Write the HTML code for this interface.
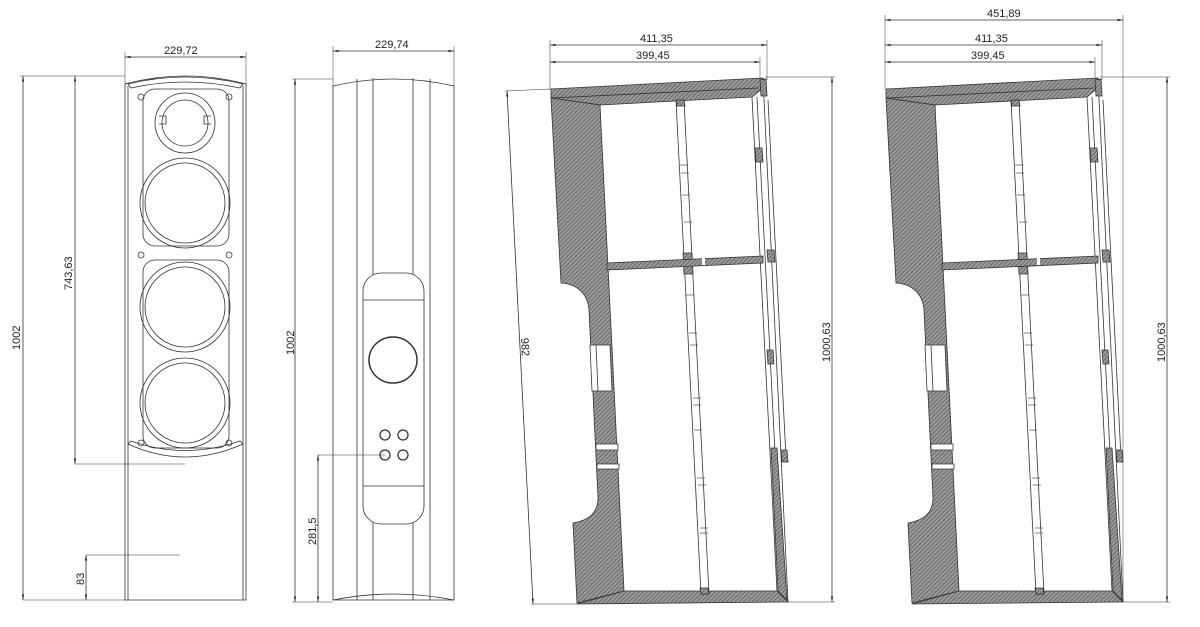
<!DOCTYPE html>
<html><head><meta charset="utf-8"><style>
html,body{margin:0;padding:0;background:#fff;}
svg{display:block;}
text{font-family:"Liberation Sans",sans-serif;font-size:11px;fill:#222;}
</style></head><body>
<svg width="1200" height="627" viewBox="0 0 1200 627" xmlns="http://www.w3.org/2000/svg">
<defs>
<pattern id="h" patternUnits="userSpaceOnUse" width="3" height="3" patternTransform="rotate(45)">
<rect width="3" height="3" fill="#9a9a9a"/><line x1="0" y1="0" x2="0" y2="3" stroke="#4a4a4a" stroke-width="1.2"/>
</pattern>
<marker id="a" viewBox="0 0 10 10" refX="10" refY="5" markerWidth="7" markerHeight="7" orient="auto-start-reverse"><path d="M0,3 L10,5 L0,7 z" fill="#222"/></marker>
<g id="sec" stroke="#333" stroke-width="0.8">
<path d="M551,89 L763,78 L765,86 L752,97 L600,105 L551,98 Z" fill="url(#h)"/>
<line x1="551" y1="98" x2="759" y2="88"/>
<path d="M551,98 L600,105 L624,591 L577,603 L573,523 C590,520 598,512 598,498 L589,310 C588,295 578,284 561,283 Z" fill="url(#h)"/>
<path d="M590,345 L610,345 L612,391 L592,391 Z" fill="#fff"/>
<line x1="596" y1="345" x2="598" y2="391"/>
<path d="M596,444 L618,444 L618,450 L596,450 Z" fill="#fff"/>
<path d="M597,464 L619,464 L619,469 L597,469 Z" fill="#fff"/>
<path d="M624,591 L777,591 L788,602 L577,604 Z" fill="url(#h)"/>
<line x1="763" y1="78" x2="788" y2="602" fill="none"/>
<line x1="752" y1="97" x2="777" y2="591" fill="none"/>
<line x1="757" y1="97" x2="782" y2="591" fill="none"/>
<line x1="768" y1="100" x2="786" y2="458" fill="none"/>
<path d="M771,448 L777,448 L787,600 L778,591 Z" fill="url(#h)"/>
<path d="M755,148 L762,148 L763,162 L756,162 Z" fill="url(#h)"/>
<path d="M767,350 L773,350 L774,364 L768,364 Z" fill="url(#h)"/>
<path d="M760,80 L766,79 L767,96 L761,96 Z" fill="url(#h)"/>
<path d="M781,450 L787,450 L788,462 L782,462 Z" fill="url(#h)"/>
<path d="M767,250 L774,250 L775,262 L768,262 Z" fill="url(#h)"/>
<path d="M676,100 L684,100 L709,594 L701,594 Z" fill="#fff"/>
<path d="M676,100 L684,100 L685,106 L677,106 Z" fill="url(#h)"/>
<path d="M700,588 L708,588 L709,594 L701,594 Z" fill="url(#h)"/>
<path d="M683,253 L692,253 L693,274 L684,274 Z" fill="url(#h)"/>
<g stroke-width="0.6">
<line x1="680" y1="165" x2="688" y2="165"/><line x1="681" y1="173" x2="689" y2="173"/>
<line x1="682" y1="195" x2="690" y2="195"/><line x1="684" y1="222" x2="692" y2="222"/>
<line x1="686" y1="295" x2="694" y2="295"/><line x1="689" y1="333" x2="697" y2="333"/>
<line x1="690" y1="345" x2="698" y2="345"/><line x1="693" y1="398" x2="701" y2="398"/>
<line x1="693" y1="405" x2="701" y2="405"/><line x1="694" y1="430" x2="702" y2="430"/>
<line x1="697" y1="478" x2="705" y2="478"/><line x1="698" y1="485" x2="706" y2="485"/>
<line x1="700" y1="528" x2="708" y2="528"/><line x1="700" y1="533" x2="708" y2="533"/>
</g>
<path d="M607,263 L763,256 L763,263 L607,270 Z" fill="url(#h)"/>
<rect x="702" y="258" width="3" height="7" fill="#fff" stroke="none"/>
</g>
</defs>

<g fill="none" stroke="#333" stroke-width="0.8">
<line x1="125" y1="52" x2="125" y2="84" stroke-width="0.5"/><line x1="246" y1="52" x2="246" y2="84" stroke-width="0.5"/>
<line x1="125" y1="57" x2="246" y2="57" marker-start="url(#a)" marker-end="url(#a)"/>
<path d="M125,84 Q185,68 246,84 L246,600 L125,600 Z"/>
<line x1="128" y1="86" x2="128" y2="600"/><line x1="243" y1="86" x2="243" y2="600"/>
<path d="M128,84 Q185,70 243,84 L240,88 Q185,76 131,88 Z"/>
<path d="M128,444 Q185,470 243,444 L240,441 Q185,460 131,441 Z"/>
<rect x="143" y="89" width="86" height="157" rx="12"/>
<rect x="143" y="260" width="86" height="188" rx="12"/>
<circle cx="185" cy="123" r="30"/><circle cx="185" cy="123" r="23"/>
<path d="M159,116 h7 v8 h-7 M211,116 h-7 v8 h7"/>
<circle cx="185" cy="203" r="45"/><circle cx="185" cy="203" r="40"/>
<circle cx="185" cy="307" r="45"/><circle cx="185" cy="307" r="40"/>
<circle cx="185" cy="403" r="45"/><circle cx="185" cy="403" r="40"/>
<circle cx="141" cy="97" r="3"/><circle cx="229" cy="97" r="3"/>
<circle cx="141" cy="255" r="3"/><circle cx="229" cy="255" r="3"/>
<circle cx="141" cy="443" r="3"/><circle cx="229" cy="443" r="3"/>
<line x1="20" y1="76" x2="125" y2="76" stroke-width="0.5"/>
<line x1="23" y1="76" x2="23" y2="600" marker-start="url(#a)" marker-end="url(#a)"/>
<line x1="23" y1="600" x2="125" y2="600" stroke-width="0.5"/>
<line x1="75" y1="76" x2="75" y2="464" marker-start="url(#a)" marker-end="url(#a)"/>
<line x1="75" y1="464" x2="185" y2="464" stroke-width="0.5"/>
<line x1="86" y1="555" x2="180" y2="555" stroke-width="0.5"/>
<line x1="86" y1="555" x2="86" y2="600" marker-start="url(#a)" marker-end="url(#a)"/>
</g>
<text x="164" y="54">229,72</text>
<text transform="translate(20,350) rotate(-90)">1002</text>
<text transform="translate(72,290) rotate(-90)">743,63</text>
<text transform="translate(84,585) rotate(-90)">83</text>

<g fill="none" stroke="#333" stroke-width="0.8">
<line x1="333" y1="46" x2="333" y2="86" stroke-width="0.5"/><line x1="454" y1="46" x2="454" y2="86" stroke-width="0.5"/>
<line x1="333" y1="51" x2="454" y2="51" marker-start="url(#a)" marker-end="url(#a)"/>
<path d="M333,86 Q393,72 454,86 L454,600 L333,600 Z"/>
<path d="M333,600 Q393,588 454,600"/>
<line x1="357" y1="79" x2="357" y2="600"/><line x1="373" y1="78" x2="373" y2="600"/>
<line x1="413" y1="78" x2="413" y2="600"/><line x1="430" y1="79" x2="430" y2="600"/>
<rect x="363" y="273" width="61" height="251" rx="18" fill="#fff"/>
<line x1="363" y1="300" x2="424" y2="300"/><line x1="363" y1="486" x2="424" y2="486"/>
<ellipse cx="393" cy="360" rx="24" ry="23" stroke-width="1.5"/>
<circle cx="385" cy="435" r="5" stroke-width="1.3"/><circle cx="403" cy="435" r="5" stroke-width="1.3"/>
<circle cx="385" cy="455" r="5" stroke-width="1.3"/><circle cx="403" cy="455" r="5" stroke-width="1.3"/>
<line x1="292" y1="79" x2="333" y2="79" stroke-width="0.5"/>
<line x1="295" y1="79" x2="295" y2="602" marker-start="url(#a)" marker-end="url(#a)"/>
<line x1="292" y1="602" x2="333" y2="602" stroke-width="0.5"/>
<line x1="318" y1="455" x2="385" y2="455" stroke-width="0.5"/>
<line x1="318" y1="455" x2="318" y2="602" marker-start="url(#a)" marker-end="url(#a)"/>
</g>
<text x="375" y="48">229,74</text>
<text transform="translate(294,355) rotate(-90)">1002</text>
<text transform="translate(316,545) rotate(-90)">281,5</text>

<use href="#sec"/>
<g fill="none" stroke="#333" stroke-width="0.8">
<line x1="550" y1="40" x2="550" y2="89" stroke-width="0.5"/>
<line x1="767" y1="40" x2="767" y2="80" stroke-width="0.5"/>
<line x1="760" y1="57" x2="760" y2="80" stroke-width="0.5"/>
<line x1="550" y1="45" x2="767" y2="45" marker-start="url(#a)" marker-end="url(#a)"/>
<line x1="550" y1="62" x2="760" y2="62" marker-start="url(#a)" marker-end="url(#a)"/>
<line x1="765" y1="77" x2="835" y2="77" stroke-width="0.5"/>
<line x1="788" y1="602" x2="835" y2="602" stroke-width="0.5"/>
<line x1="832" y1="77" x2="832" y2="602" marker-start="url(#a)" marker-end="url(#a)"/>
<line x1="507" y1="91" x2="533" y2="604" marker-start="url(#a)" marker-end="url(#a)"/>
<line x1="505" y1="91" x2="551" y2="89" stroke-width="0.5"/>
<line x1="531" y1="604" x2="577" y2="604" stroke-width="0.5"/>
</g>
<text x="640" y="42">411,35</text>
<text x="636" y="59">399,45</text>
<text transform="translate(830,362) rotate(-90)">1000,63</text>
<text transform="translate(521,338) rotate(87)">982</text>

<use href="#sec" transform="translate(335,0)"/>
<g fill="none" stroke="#333" stroke-width="0.8">
<line x1="885" y1="15" x2="885" y2="89" stroke-width="0.5"/>
<line x1="1123" y1="15" x2="1123" y2="602" stroke-width="0.5"/>
<line x1="1102" y1="40" x2="1102" y2="80" stroke-width="0.5"/>
<line x1="1095" y1="57" x2="1095" y2="80" stroke-width="0.5"/>
<line x1="885" y1="20" x2="1123" y2="20" marker-start="url(#a)" marker-end="url(#a)"/>
<line x1="885" y1="45" x2="1102" y2="45" marker-start="url(#a)" marker-end="url(#a)"/>
<line x1="885" y1="62" x2="1095" y2="62" marker-start="url(#a)" marker-end="url(#a)"/>
<line x1="1100" y1="77" x2="1170" y2="77" stroke-width="0.5"/>
<line x1="1123" y1="602" x2="1170" y2="602" stroke-width="0.5"/>
<line x1="1167" y1="77" x2="1167" y2="602" marker-start="url(#a)" marker-end="url(#a)"/>
</g>
<text x="987" y="17">451,89</text>
<text x="975" y="42">411,35</text>
<text x="971" y="59">399,45</text>
<text transform="translate(1165,362) rotate(-90)">1000,63</text>
</svg>
</body></html>
